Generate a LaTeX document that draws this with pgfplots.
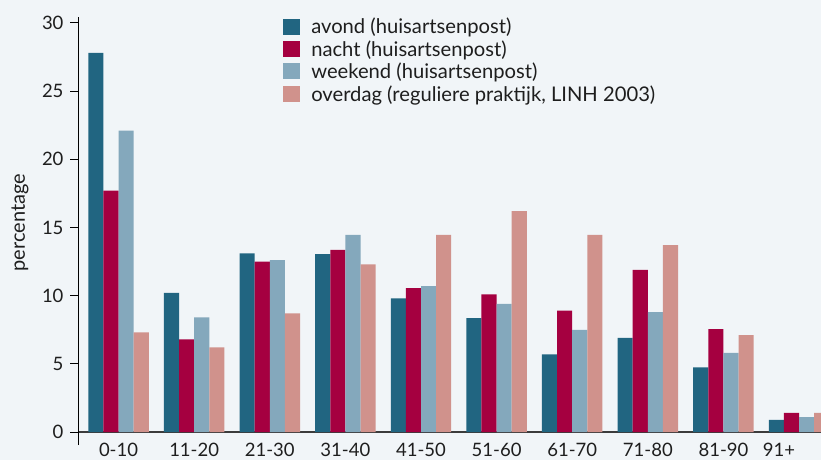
\documentclass[border=0pt]{standalone}
\usepackage{pgfplots}
\pgfplotsset{compat=1.18}
\usepackage{fontspec}
\setmainfont{Lato}
\definecolor{bg}{RGB}{241,245,248}
\definecolor{cA}{RGB}{33,101,129}
\definecolor{cB}{RGB}{165,0,64}
\definecolor{cC}{RGB}{132,168,188}
\definecolor{cD}{RGB}{208,146,140}
\definecolor{txt}{RGB}{30,30,30}
\definecolor{axgray}{RGB}{60,60,60}
\begin{document}
\begin{tikzpicture}
\fill[bg] (0,0) rectangle (821pt,460pt);
\useasboundingbox (0,0) rectangle (821pt,460pt);
\begin{axis}[
  at={(78pt,15pt)}, anchor=south west,
  scale only axis, width=743pt, height=427.5pt,
  xmin=-0.536, xmax=9.29, ymin=-0.95, ymax=30.4,
  ybar=0pt, bar width=0.2,
  axis x line=middle, axis y line=left,
  every inner x axis line/.append style={-},
  every outer y axis line/.append style={-},
  x axis line style={-, draw=axgray, line width=1.8pt},
  y axis line style={-, draw=black, line width=1pt},
  hide obscured x ticks=false, hide obscured y ticks=false,
  xtick={0,...,9},
  xticklabels={0-10,11-20,21-30,31-40,41-50,51-60,61-70,71-80,81-90,\llap{91+\hspace{4pt}}},
  x tick style={draw=none},
  ytick={0,5,...,30},
  tick align=outside,
  y tick style={draw=black, line width=1pt},
  major tick length=8pt,
  /pgf/number format/assume math mode=true,
  font=\fontsize{18}{22}\selectfont,
  tick label style={font=\fontsize{18.5}{22}\selectfont, text=txt},
  yticklabel style={xshift=-3pt},
  xticklabel style={inner ysep=0pt, yshift=-3pt},
  every axis y label/.style={at={(axis description cs:-0.078,0.52)}, rotate=90, anchor=center, font=\fontsize{20}{24}\selectfont, text=txt},
  ylabel={percentage},
  legend style={at={(axis description cs:0.276,1.004)}, anchor=north west, draw=none, fill=none, inner sep=0pt, font=\fontsize{20.2}{24}\selectfont, text=txt, row sep=1.3pt, cells={anchor=west},
    /tikz/every odd column/.append style={column sep=9pt}},
  legend image code/.code={\fill[#1] (0pt,-8pt) rectangle (17pt,8pt);},
]
\addplot[fill=cA, draw=none] coordinates {(0,27.8) (1,10.2) (2,13.1) (3,13.05) (4,9.8) (5,8.35) (6,5.7) (7,6.9) (8,4.75) (9,0.9)};
\addplot[fill=cB, draw=none] coordinates {(0,17.7) (1,6.8) (2,12.5) (3,13.35) (4,10.55) (5,10.1) (6,8.9) (7,11.9) (8,7.55) (9,1.4)};
\addplot[fill=cC, draw=none] coordinates {(0,22.1) (1,8.4) (2,12.6) (3,14.45) (4,10.7) (5,9.4) (6,7.5) (7,8.8) (8,5.8) (9,1.1)};
\addplot[fill=cD, draw=none] coordinates {(0,7.3) (1,6.2) (2,8.7) (3,12.3) (4,14.45) (5,16.2) (6,14.45) (7,13.7) (8,7.1) (9,1.4)};
\legend{avond (huisartsenpost), nacht (huisartsenpost), weekend (huisartsenpost), {overdag (reguliere praktijk, LINH 2003)}}
\end{axis}
\end{tikzpicture}
\end{document}
